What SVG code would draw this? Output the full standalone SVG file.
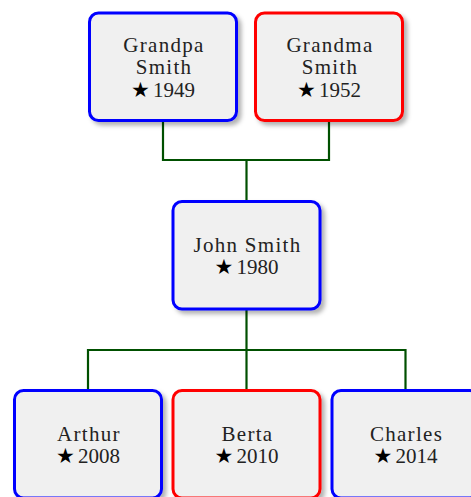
<svg xmlns="http://www.w3.org/2000/svg" width="471" height="497" viewBox="0 0 471 497">
<style>
.box{fill:#f0f0f0;stroke-width:3;filter:url(#sh)}
.m{stroke:#0000ff}
.f{stroke:#ff0000}
.t{font-family:"Liberation Serif","DejaVu Serif",serif;font-size:21px;fill:#222;text-anchor:middle}
.n{letter-spacing:1.3px}
.s{font-family:"DejaVu Sans",sans-serif;font-size:21px;fill:#000}
.c{fill:none;stroke:#005000;stroke-width:2.2}
</style>
<defs>
<filter id="sh" x="-20%" y="-20%" width="140%" height="140%">
<feDropShadow dx="3.5" dy="3.5" stdDeviation="2.2" flood-color="#000" flood-opacity="0.3"/>
</filter>
</defs>
<g id="connectors">
<path class="c" d="M163 121 V160 H329 V121 M246.5 160 V201"/>
<path class="c" d="M246.5 310 V350 M88 391 V350 H405.5 V391 M246.5 350 V391"/>
</g>
<g id="grandpa">
<rect class="box m" x="89.5" y="13" width="147" height="107.5" rx="9"/>
<text class="t n" x="164" y="52">Grandpa</text>
<text class="t n" x="164" y="74">Smith</text>
<text class="t" x="163" y="97"><tspan class="s">★</tspan><tspan dx="3">1949</tspan></text>
</g>
<g id="grandma">
<rect class="box f" x="255.5" y="13" width="147" height="107.5" rx="9"/>
<text class="t n" x="330" y="52">Grandma</text>
<text class="t n" x="330" y="74">Smith</text>
<text class="t" x="329" y="97"><tspan class="s">★</tspan><tspan dx="3">1952</tspan></text>
</g>
<g id="john">
<rect class="box m" x="173" y="201.5" width="147" height="107.5" rx="9"/>
<text class="t n" x="247.5" y="252">John Smith</text>
<text class="t" x="246.5" y="274"><tspan class="s">★</tspan><tspan dx="3">1980</tspan></text>
</g>
<g id="arthur">
<rect class="box m" x="14.5" y="390.5" width="147" height="107.5" rx="9"/>
<text class="t n" x="89" y="441">Arthur</text>
<text class="t" x="88" y="463"><tspan class="s">★</tspan><tspan dx="3">2008</tspan></text>
</g>
<g id="berta">
<rect class="box f" x="173" y="390.5" width="147" height="107.5" rx="9"/>
<text class="t n" x="247.5" y="441">Berta</text>
<text class="t" x="246.5" y="463"><tspan class="s">★</tspan><tspan dx="3">2010</tspan></text>
</g>
<g id="charles">
<rect class="box m" x="332" y="390.5" width="147" height="107.5" rx="9"/>
<text class="t n" x="406.5" y="441">Charles</text>
<text class="t" x="405.5" y="463"><tspan class="s">★</tspan><tspan dx="3">2014</tspan></text>
</g>
</svg>
